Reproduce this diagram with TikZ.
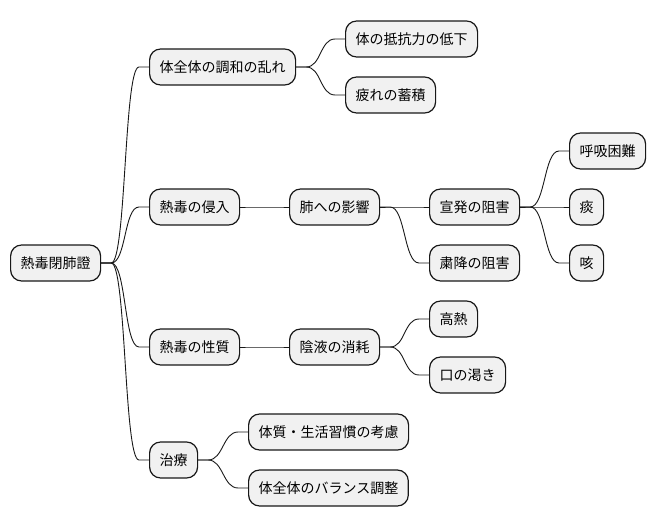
\documentclass[tikz,border=0pt]{standalone}
\usepackage{fontspec}
\newfontfamily\jpfont{Noto Sans CJK JP}
\usetikzlibrary{positioning, calc}
\definecolor{boxFill}{HTML}{F1F1F1}
\definecolor{boxLine}{HTML}{181818}

% one branch: short stub, S-curve, short stub
\newcommand{\mmlink}[2]{%
  \draw[link] (#1.east) -- ++(10,0)
    .. controls +(15,0) and +(-15,0) .. ([xshift=-10pt]#2.west)
    -- (#2.west);}

\begin{document}
\begin{tikzpicture}[
    x=1pt, y=-1pt,
    % every unit = 1px of the 656x527 canvas
    topic/.style={draw=boxLine, fill=boxFill, line width=1.2pt,
                  rounded corners=11pt, anchor=west,
                  minimum height=36pt, inner xsep=10pt, inner ysep=0pt,
                  font=\jpfont\fontsize{14}{16}\selectfont, text=black},
    link/.style={draw=boxLine, line width=0.9pt}
  ]
  \useasboundingbox (0,0) rectangle (656,527);

  % ── Root ──────────────────────────────────────────────────────────────────
  \node[topic] (root)  at ( 10, 263) {熱毒閉肺證};

  % ── First level ───────────────────────────────────────────────────────────
  \node[topic] (chowa)  at (149,  67) {体全体の調和の乱れ};
  \node[topic] (shinyu) at (149, 207) {熱毒の侵入};
  \node[topic] (seishi) at (149, 347) {熱毒の性質};
  \node[topic] (chiryo) at (149, 460) {治療};

  \mmlink{root}{chowa}
  \mmlink{root}{shinyu}
  \mmlink{root}{seishi}
  \mmlink{root}{chiryo}

  % ── 体全体の調和の乱れ ───────────────────────────────────────────────────
  \node[topic] (teiko)  at (345,  39) {体の抵抗力の低下};
  \node[topic] (tsukare) at (345, 95) {疲れの蓄積};

  \mmlink{chowa}{teiko}
  \mmlink{chowa}{tsukare}

  % ── 熱毒の侵入 → 肺への影響 ─────────────────────────────────────────────
  \node[topic] (hai)     at (289, 207) {肺への影響};
  \node[topic] (senpatsu) at (429, 207) {宣発の阻害};
  \node[topic] (shukko)  at (429, 263) {粛降の阻害};

  \mmlink{shinyu}{hai}
  \mmlink{hai}{senpatsu}
  \mmlink{hai}{shukko}

  % symptoms of 宣発の阻害
  \node[topic] (kokyu) at (569, 151) {呼吸困難};
  \node[topic] (tan)   at (569, 207) {痰};
  \node[topic] (seki)  at (569, 263) {咳};

  \mmlink{senpatsu}{kokyu}
  \mmlink{senpatsu}{tan}
  \mmlink{senpatsu}{seki}

  % ── 熱毒の性質 → 陰液の消耗 ─────────────────────────────────────────────
  \node[topic] (ineki)   at (289, 347) {陰液の消耗};
  \node[topic] (konetsu) at (429, 319) {高熱};
  \node[topic] (kawaki)  at (429, 375) {口の渇き};

  \mmlink{seishi}{ineki}
  \mmlink{ineki}{konetsu}
  \mmlink{ineki}{kawaki}

  % ── 治療 ──────────────────────────────────────────────────────────────────
  \node[topic] (taishitsu) at (248, 432) {体質・生活習慣の考慮};
  \node[topic] (balance)   at (248, 488) {体全体のバランス調整};

  \mmlink{chiryo}{taishitsu}
  \mmlink{chiryo}{balance}

\end{tikzpicture}
\end{document}
